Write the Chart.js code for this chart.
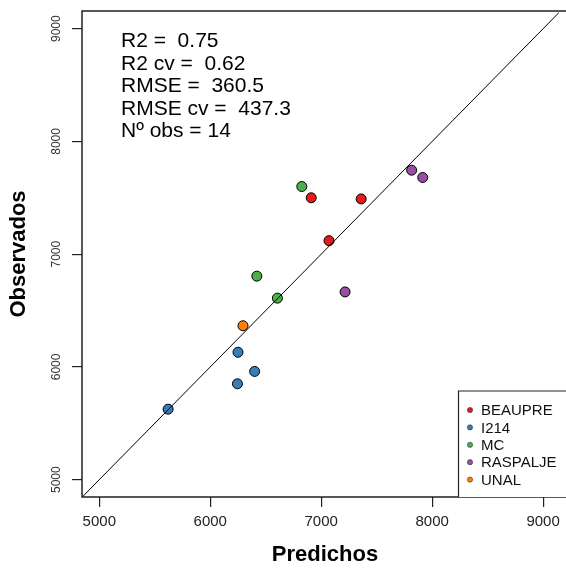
<!DOCTYPE html>
<html lang="es">
<head>
    <meta charset="UTF-8">
    <title>Observados vs Predichos</title>
    <script src="https://cdn.jsdelivr.net/npm/chart.js"></script>
    <style>
        body { margin: 0; background: #fff; }
        #wrap { width: 566px; height: 572px; }
    </style>
</head>
<body>
    <div id="wrap"><canvas id="obsChart"></canvas></div>

    <script>
        // data
        const varieties = ['BEAUPRE', 'I214', 'MC', 'RASPALJE', 'UNAL'];
        const varietyColors = ['#E41A1C', '#377EB8', '#4DAF4A', '#984EA3', '#FF7F00'];

        const predBeaupre = [6910, 7360, 7070];
        const obsBeaupre = [7500, 7490, 7120];
        const predI214 = [6250, 6400, 6245, 5620];
        const obsI214 = [6130, 5960, 5850, 5625];
        const predMC = [6825, 6420, 6605];
        const obsMC = [7600, 6805, 6610];
        const predRaspalje = [7815, 7915, 7215];
        const obsRaspalje = [7745, 7680, 6665];
        const predUnal = [6295];
        const obsUnal = [6365];

        const axisTicks = [5000, 6000, 7000, 8000, 9000];
        const xRange = [4844, 9142];
        const yRange = [4846, 9157];
        const oneToOne = [4844, 9157];

        const statLines = ['R2 =  0.75', 'R2 cv =  0.62', 'RMSE =  360.5', 'RMSE cv =  437.3', 'Nº obs = 14'];

        const predList = [predBeaupre, predI214, predMC, predRaspalje, predUnal];
        const obsList = [obsBeaupre, obsI214, obsMC, obsRaspalje, obsUnal];

        function toPoints(xs, ys) {
            return xs.map((x, i) => ({ x: x, y: ys[i] }));
        }

        const datasets = [{
            type: 'line',
            label: '1:1',
            data: oneToOne.map(v => ({ x: v, y: v })),
            borderColor: '#000',
            borderWidth: 1,
            pointRadius: 0,
            fill: false
        }];
        varieties.forEach((name, i) => {
            datasets.push({
                type: 'scatter',
                label: name,
                data: toPoints(predList[i], obsList[i]),
                backgroundColor: varietyColors[i],
                borderColor: '#000',
                borderWidth: 1,
                pointRadius: 5,
                pointHoverRadius: 5
            });
        });

        const FONT = '"Liberation Sans", Arial, sans-serif';

        // box, rotated y labels, stats text, legend and axis titles (R-like)
        const decorations = {
            id: 'decorations',
            afterDraw(chart) {
                const ctx = chart.ctx;
                const a = chart.chartArea;
                const yScale = chart.scales.y;
                ctx.save();

                // plot box
                ctx.strokeStyle = '#222';
                ctx.lineWidth = 1.5;
                ctx.beginPath();
                ctx.moveTo(566, a.top);
                ctx.lineTo(a.left, a.top);
                ctx.lineTo(a.left, a.bottom);
                ctx.lineTo(566, a.bottom);
                ctx.stroke();

                // y tick labels, rotated
                ctx.fillStyle = '#333';
                ctx.font = '12px ' + FONT;
                ctx.textAlign = 'center';
                ctx.textBaseline = 'alphabetic';
                axisTicks.forEach(v => {
                    const py = yScale.getPixelForValue(v);
                    ctx.save();
                    ctx.translate(60, py);
                    ctx.rotate(-Math.PI / 2);
                    ctx.fillText(String(v), 0, 0);
                    ctx.restore();
                });

                // stats text
                ctx.fillStyle = '#000';
                ctx.font = '21px ' + FONT;
                ctx.textAlign = 'left';
                statLines.forEach((t, i) => {
                    ctx.fillText(t, 121, 47 + i * 22.6);
                });

                // legend
                const lx = 458.5, ly = 391;
                ctx.fillStyle = '#fff';
                ctx.fillRect(lx, ly, 566 - lx, a.bottom - ly);
                ctx.strokeStyle = '#222';
                ctx.lineWidth = 1.2;
                ctx.beginPath();
                ctx.moveTo(566, ly);
                ctx.lineTo(lx, ly);
                ctx.lineTo(lx, a.bottom);
                ctx.stroke();
                ctx.font = '15px ' + FONT;
                ctx.textBaseline = 'middle';
                varieties.forEach((name, i) => {
                    const ry = 410 + i * 17.4;
                    ctx.beginPath();
                    ctx.arc(470, ry, 2.6, 0, Math.PI * 2);
                    ctx.fillStyle = varietyColors[i];
                    ctx.fill();
                    ctx.lineWidth = 0.6;
                    ctx.strokeStyle = '#333';
                    ctx.stroke();
                    ctx.fillStyle = '#111';
                    ctx.fillText(name, 481, ry + 1);
                });

                // axis titles
                ctx.fillStyle = '#000';
                ctx.font = 'bold 22px ' + FONT;
                ctx.textAlign = 'center';
                ctx.textBaseline = 'alphabetic';
                ctx.fillText('Predichos', (a.left + 568) / 2, 561);
                ctx.save();
                ctx.translate(25, (a.top + a.bottom) / 2);
                ctx.rotate(-Math.PI / 2);
                ctx.fillText('Observados', 0, 0);
                ctx.restore();

                ctx.restore();
            }
        };

        new Chart(document.getElementById('obsChart'), {
            data: { datasets },
            options: {
                responsive: true,
                maintainAspectRatio: false,
                animation: false,
                layout: { padding: { top: 11, right: 0, left: 0, bottom: 0 } },
                plugins: {
                    legend: { display: false },
                    tooltip: { enabled: false }
                },
                scales: {
                    x: {
                        type: 'linear',
                        min: xRange[0],
                        max: xRange[1],
                        afterBuildTicks: s => { s.ticks = axisTicks.map(v => ({ value: v })); },
                        afterFit: s => { s.height = 75; },
                        border: { display: false },
                        grid: { drawOnChartArea: false, tickLength: 10, color: '#222', lineWidth: 1.2 },
                        ticks: {
                            color: '#222',
                            font: { size: 15, family: FONT },
                            padding: 6,
                            maxRotation: 0,
                            autoSkip: false,
                            callback: v => String(v)
                        }
                    },
                    y: {
                        type: 'linear',
                        min: yRange[0],
                        max: yRange[1],
                        afterBuildTicks: s => { s.ticks = axisTicks.map(v => ({ value: v })); },
                        afterFit: s => { s.width = 82; },
                        border: { display: false },
                        grid: { drawOnChartArea: false, tickLength: 10, color: '#222', lineWidth: 1.2 },
                        ticks: { display: false }
                    }
                }
            },
            plugins: [decorations]
        });
    </script>
</body>
</html>
